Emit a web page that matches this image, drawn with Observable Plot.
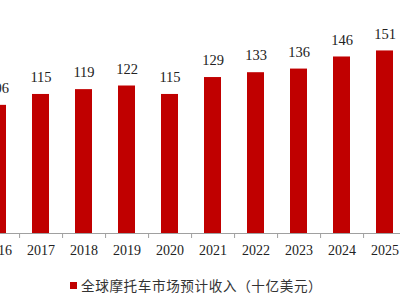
<!DOCTYPE html>
<html>
<head>
<meta charset="utf-8">
<script src="https://cdn.jsdelivr.net/npm/d3@7"></script>
<script src="https://cdn.jsdelivr.net/npm/@observablehq/plot@0.6"></script>
<style>
  html, body { margin: 0; padding: 0; background: #fff; width: 400px; height: 300px; overflow: hidden; }
  #chart svg { display: block; }
  .legend { position: relative; height: 30px; font-family: "Noto Sans CJK SC", sans-serif; font-size: 13.6px; color: #333; letter-spacing: 0.6px; }
  .legend .sw { position: absolute; left: 70px; top: 12px; width: 7px; height: 7px; background: #C00000; }
  .legend .lbl { position: absolute; left: 81px; top: 5px; white-space: nowrap; line-height: 20px; }
</style>
</head>
<body>
<div id="chart"></div>
<div class="legend"><span class="sw"></span><span class="lbl" id="legendText"></span></div>
<script>
const years = ["2016", "2017", "2018", "2019", "2020", "2021", "2022", "2023", "2024", "2025"];
const revenue = [106, 115, 119, 122, 115, 129, 133, 136, 146, 151];
const seriesName = "全球摩托车市场预计收入（十亿美元）";

const data = years.map((y, i) => ({year: y, value: revenue[i]}));
const step = 43.17;

const chart = Plot.plot({
  width: 400,
  height: 270,
  marginLeft: 0,
  marginRight: 0,
  marginTop: 0,
  marginBottom: 37,
  style: {background: "#fff"},
  x: {type: "band", domain: years, range: [-24.4, -24.4 + step * 10], paddingInner: 0.6, paddingOuter: 0.3, axis: null, label: null},
  y: {domain: [0, 160], range: [233, 233 - 160 * 1.209], axis: null},
  marks: [
    Plot.barY(data, {x: "year", y: "value", fill: "#C00000"}),
    Plot.ruleY([0], {stroke: "#a0a0a0", strokeWidth: 1}),
    Plot.axisX({domain: years, label: null, tickSize: 0, tickPadding: 12, fontSize: 14, fontFamily: "Liberation Serif", fill: "#222", tickFormat: d => d}),
    Plot.axisX({domain: years, label: null, tickSize: 5, stroke: "#a0a0a0", tickFormat: () => "", dx: step / 2}),
    Plot.text(data, {x: "year", y: "value", text: d => String(d.value), dy: -17, fontSize: 14.5, fontFamily: "Liberation Serif", fill: "#222"})
  ]
});
document.getElementById("chart").appendChild(chart);
document.getElementById("legendText").textContent = seriesName;
</script>
</body>
</html>
